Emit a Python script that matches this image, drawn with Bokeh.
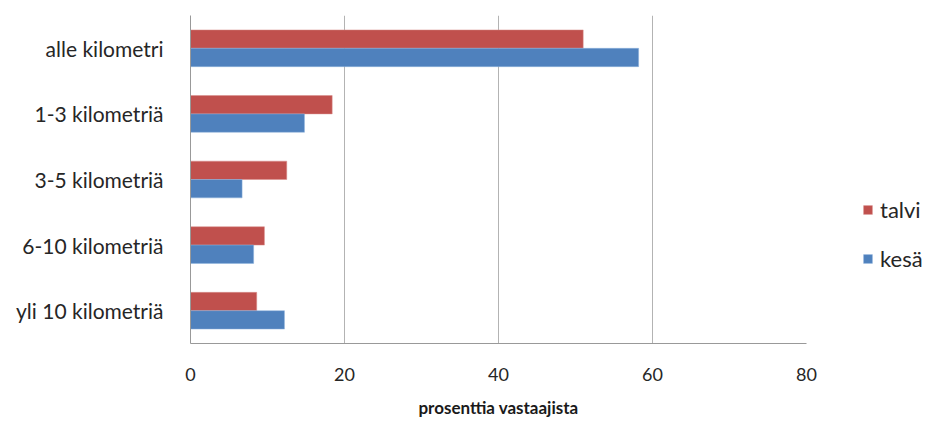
from bokeh.plotting import figure
from bokeh.models import ColumnDataSource, FactorRange, Range1d, FixedTicker, Legend, LegendItem
from bokeh.transform import dodge
from bokeh.embed import file_html
from bokeh.resources import INLINE

categories = ["alle kilometri", "1-3 kilometriä", "3-5 kilometriä", "6-10 kilometriä", "yli 10 kilometriä"]
talvi = [51.0, 18.4, 12.5, 9.6, 8.6]
kesa = [58.2, 14.8, 6.7, 8.2, 12.2]
x_ticks = [0, 20, 40, 60, 80]

FONT = "Lato"
src = ColumnDataSource(dict(cat=categories, talvi=talvi, kesa=kesa))

p = figure(frame_width=616, frame_height=328, output_backend="svg", toolbar_location=None,
           y_range=FactorRange(factors=list(reversed(categories))),
           x_range=Range1d(0, 80),
           min_border_left=190, min_border_top=15, min_border_bottom=74, min_border_right=118)
p.outline_line_color = None

r1 = p.hbar(y=dodge("cat", 0.14, range=p.y_range), right="talvi", left=0, height=0.28, source=src,
            fill_color="#C0504D", line_color="#D98E8C", line_width=0.5)
r2 = p.hbar(y=dodge("cat", -0.14, range=p.y_range), right="kesa", left=0, height=0.28, source=src,
            fill_color="#4F81BD", line_color="#8EB2DD", line_width=0.5)

p.xaxis.ticker = FixedTicker(ticks=x_ticks)
p.xaxis.axis_label = "prosenttia vastaajista"
p.xaxis.axis_label_text_font = FONT
p.xaxis.axis_label_text_font_style = "bold"
p.xaxis.axis_label_text_font_size = "17px"
p.xaxis.axis_label_text_color = "#1a1a1a"
p.xaxis.axis_label_standoff = 13
p.xaxis.major_label_text_font = FONT
p.xaxis.major_label_text_font_size = "18px"
p.xaxis.major_label_text_color = "#262626"
p.xaxis.major_label_standoff = 18
p.xaxis.major_tick_line_color = None
p.xaxis.minor_tick_line_color = None
p.xaxis.axis_line_color = "#999999"

p.yaxis.major_label_text_font = FONT
p.yaxis.major_label_text_font_size = "21px"
p.yaxis.major_label_text_color = "#262626"
p.yaxis.major_label_standoff = 21
p.yaxis.major_tick_line_color = None
p.yaxis.minor_tick_line_color = None
p.yaxis.axis_line_color = "#999999"

p.xgrid.grid_line_color = "#B3B3B3"
p.xgrid.grid_line_width = 1
p.ygrid.grid_line_color = None

legend = Legend(items=[LegendItem(label="talvi", renderers=[r1]), LegendItem(label="kesä", renderers=[r2])],
                location=(56, 71), orientation="vertical", border_line_color=None,
                background_fill_alpha=0, label_text_font=FONT, label_text_font_size="22px",
                label_text_color="#262626", glyph_width=11, glyph_height=11, label_height=24,
                spacing=22, label_standoff=7, padding=0, margin=0)
p.add_layout(legend, "right")

open("out.html", "w").write(file_html(p, INLINE))
